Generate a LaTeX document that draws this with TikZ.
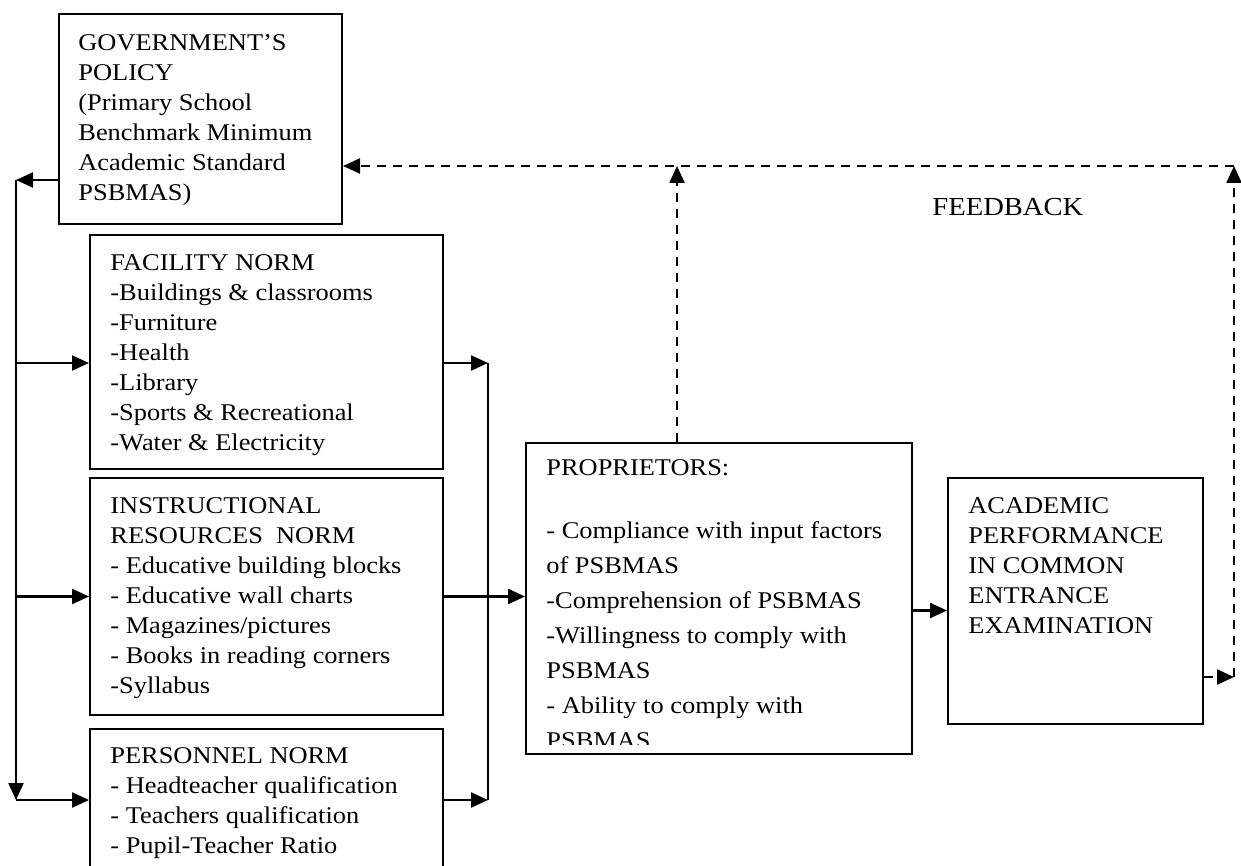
\documentclass[tikz,border=0pt]{standalone}
\usepackage{fontspec}
\setmainfont{Liberation Serif}[FakeStretch=1.1]
\usetikzlibrary{arrows.meta,calc}
\tikzset{
  normbox/.style={draw, line width=1pt, inner sep=0pt, anchor=north west},
  normtext/.style={anchor=north west, inner sep=0pt, align=left, font=\fontsize{12}{15}\selectfont},
  link/.style={line width=1.2pt, -{Triangle[length=8.5pt,width=7.5pt]}},
  fback/.style={link, dash pattern=on 4.5pt off 3.5pt}
}

\begin{document}
\begin{tikzpicture}[x=0.5pt,y=-0.5pt]
\useasboundingbox (0,0) rectangle (1241,866);
% boxes
\node[normbox, minimum width=141.5pt, minimum height=105pt] (gov) at (58,13) {};
\node[normbox, minimum width=176.5pt, minimum height=117pt] (fac) at (89,234) {};
\node[normbox, minimum width=176.5pt, minimum height=118.5pt] (ins) at (89,477) {};
\node[normbox, minimum width=176.5pt, minimum height=80pt] (per) at (89,728) {};
\node[normbox, minimum width=193pt, minimum height=155.5pt] (prop) at (525,442) {};
\node[normbox, minimum width=127.5pt, minimum height=123pt] (acad) at (947,477) {};
% texts
\node[normtext] (govtxt) at (78,29) {\strut GOVERNMENT’S\\POLICY\\(Primary School\\Benchmark Minimum\\Academic Standard\\PSBMAS)};
\node[normtext] (factxt) at (110,249) {\strut FACILITY NORM\\-Buildings \& classrooms\\-Furniture\\-Health\\-Library\\-Sports \& Recreational\\-Water \& Electricity};
\node[normtext] (instxt) at (110,492) {\strut INSTRUCTIONAL\\RESOURCES\ \ NORM\\- Educative building blocks\\- Educative wall charts\\- Magazines/pictures\\- Books in reading corners\\-Syllabus};
\node[normtext] (pertxt) at (110,742) {\strut PERSONNEL NORM\\- Headteacher qualification\\- Teachers qualification\\- Pupil-Teacher Ratio};
\begin{scope}
\clip (prop.north west) rectangle ($(prop.south east)+(0,-11)$);
\node[normtext, font=\fontsize{12}{17.5}\selectfont] (proptxt) at (546,451) {\strut PROPRIETORS:\\[14pt]- Compliance with input factors\\of PSBMAS\\-Comprehension of PSBMAS\\-Willingness to comply with\\PSBMAS\\- Ability to comply with\\PSBMAS};
\end{scope}
\node[normtext] (acadtxt) at (968,492) {\strut ACADEMIC\\PERFORMANCE\\IN COMMON\\ENTRANCE\\EXAMINATION};
\node[anchor=base west, inner sep=0pt, font=\fontsize{13}{15}\selectfont] (fbtxt) at (932,216) {FEEDBACK};
% left bus
\coordinate (ltop) at (16,180);
\coordinate (lbot) at (16,800);
\coordinate (lfac) at (16,363);
\draw[link] (ltop -| gov.west) -- (ltop);
\draw[link] (ltop) -- (lbot);
\draw[link] (lfac) -- (lfac -| fac.west);
\draw[link] (ltop |- ins.west) -- (ins.west);
\draw[link] (lbot) -- (lbot -| per.west);
% right bus
\coordinate (rfac) at (488,363);
\coordinate (rper) at (488,800);
\draw[link] (rfac -| fac.east) -- (rfac);
\draw[line width=1.2pt] (rfac) -- (rper);
\draw[link] (rper -| per.east) -- (rper);
\draw[link] (ins.east) -- (ins.east -| prop.west);
\coordinate (pacad) at ($(prop.east)+(0,12)$);
\draw[link] (pacad) -- (pacad -| acad.west);
% feedback
\coordinate (fbo) at (1234,677);
\coordinate (fbr) at (1234,166);
\coordinate (fbm) at (677,166);
\draw[fback] (fbo -| acad.east) -- (fbo);
\draw[fback] (fbo) -- (fbr);
\draw[fback] (fbr) -- (fbr -| gov.east);
\draw[fback] (fbm |- prop.north) -- (fbm);
\end{tikzpicture}
\end{document}
